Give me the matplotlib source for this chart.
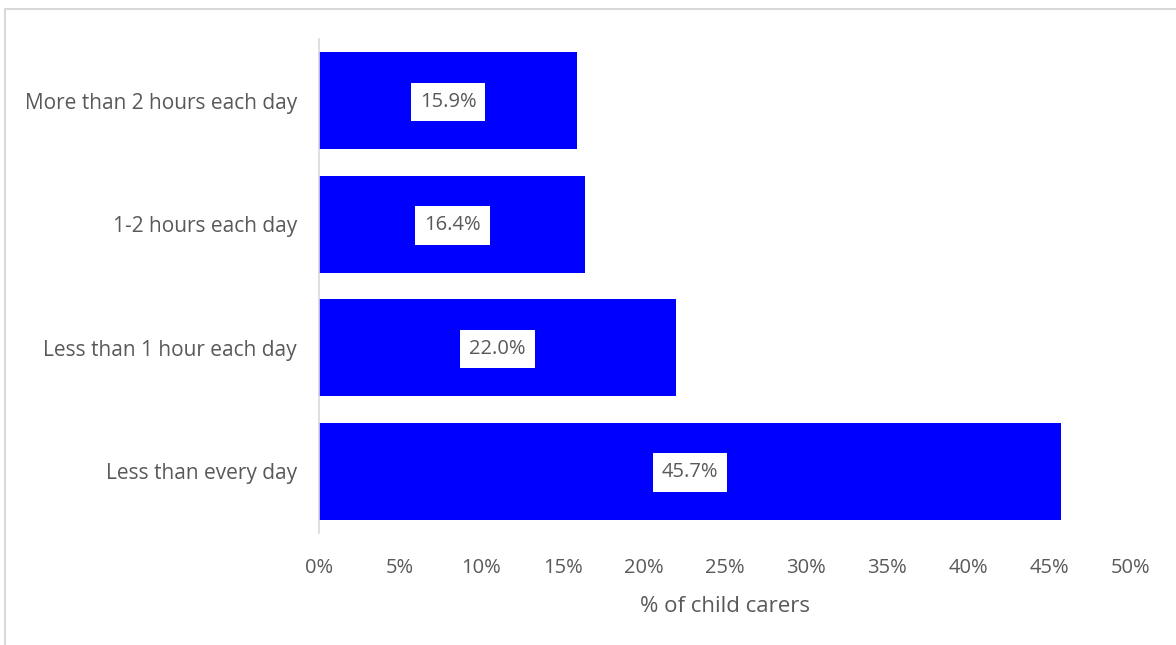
import matplotlib.pyplot as plt
from matplotlib.patches import Rectangle

plt.rcParams['font.family'] = ['Open Sans', 'DejaVu Sans']

categories = ["Less than every day", "Less than 1 hour each day",
              "1-2 hours each day", "More than 2 hours each day"]
values = [45.7, 22.0, 16.4, 15.9]
ticks = [0, 5, 10, 15, 20, 25, 30, 35, 40, 45, 50]

grey = "#595959"
fig = plt.figure(figsize=(11.76, 6.45), dpi=100)
ax = fig.add_axes([319/1176, 1 - 533/645, (1131-319)/1176, (533-39)/645])

ax.barh(range(len(categories)), values, height=0.785, color="#0000FF")
for i, v in enumerate(values):
    ax.text(v/2, i - 0.01, f"{v:.1f}%", ha="center", va="center", fontsize=14.5, color=grey,
            bbox=dict(boxstyle="square,pad=0.45", fc="white", ec="none"))

ax.set_xlim(0, 50)
ax.set_ylim(-0.5, 3.5)
ax.set_yticks(range(len(categories)))
ax.set_yticklabels(categories, fontsize=15, color=grey)
ax.set_xticks(ticks)
ax.set_xticklabels([f"{t}%" for t in ticks], fontsize=14.5, color=grey)
ax.tick_params(length=0)
ax.tick_params(axis="y", pad=16)
ax.tick_params(axis="x", pad=18)
for s in ["top", "right", "bottom"]:
    ax.spines[s].set_visible(False)
ax.spines["left"].set_color("#d9d9d9")
ax.spines["left"].set_linewidth(1.2)
ax.set_xlabel("% of child carers", fontsize=16, color=grey, labelpad=13)

fig.patches.append(Rectangle((5/1176, -0.1), 1.2, 1 - 9/645 + 0.1, transform=fig.transFigure,
                             fill=False, ec="#d9d9d9", lw=1.5))
fig.savefig("out.png", dpi=100)
